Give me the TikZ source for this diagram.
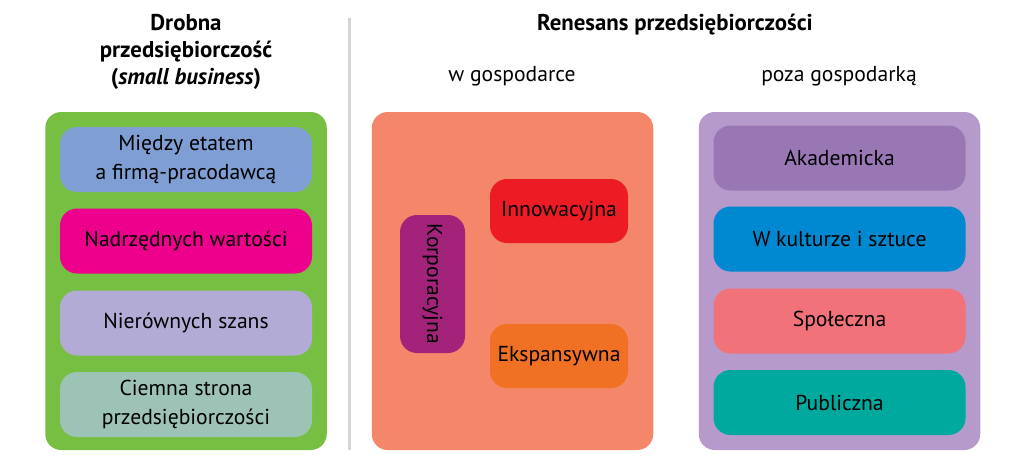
\documentclass[tikz,border=0pt]{standalone}
\usepackage{fontspec}
\setmainfont{PT Sans}
\definecolor{drobnagreen}{HTML}{77BF43}
\definecolor{etatblue}{HTML}{7F9ED3}
\definecolor{wartmagenta}{HTML}{EC008C}
\definecolor{szanslav}{HTML}{B1ABD5}
\definecolor{ciemnagrey}{HTML}{9DC3B7}
\definecolor{gospsalmon}{HTML}{F4876A}
\definecolor{korppurple}{HTML}{A3237A}
\definecolor{innored}{HTML}{ED1C24}
\definecolor{eksporange}{HTML}{F07124}
\definecolor{pozalav}{HTML}{B59ACB}
\definecolor{akadviolet}{HTML}{9977B5}
\definecolor{kultblue}{HTML}{0089D0}
\definecolor{spolpink}{HTML}{F17279}
\definecolor{publteal}{HTML}{00A99D}
\definecolor{divgrey}{HTML}{D6D6D6}
\begin{document}
\begin{tikzpicture}[
    font=\fontsize{12.3}{16}\selectfont,
    panel/.style={rounded corners=0.32cm, minimum width=5.63cm, minimum height=6.76cm, inner sep=0pt},
    item/.style={rounded corners=0.34cm, minimum width=5.04cm, minimum height=1.3cm, inner sep=0pt, align=center},
    subitem/.style={rounded corners=0.34cm, minimum width=2.76cm, minimum height=1.28cm, inner sep=0pt},
    head/.style={font=\fontsize{13}{15.5}\selectfont\bfseries, align=center}
  ]
  \useasboundingbox (0,0) rectangle (20.44,-9.4);
  % headings
  \node[head] (drobna) at (3.72,-1.04) {Drobna\\przedsiębiorczość\\(\textit{small business})};
  \node[head] (renesans) at (13.5,-0.5) {Renesans przedsiębiorczości};
  \node (wgosp) at (10.24,-1.52) {w gospodarce};
  \node (pozagosp) at (16.78,-1.52) {poza gospodarką};
  \draw[divgrey, line width=1.6pt] (6.99,-0.36) -- (6.99,-9.0);
  % small business
  \node[panel, fill=drobnagreen] (small) at (3.72,-5.62) {};
  \node[item, fill=etatblue] (etat) at (3.72,-3.19) {Między etatem\\a firmą-pracodawcą};
  \node[item, fill=wartmagenta] (wartosci) at (3.72,-4.82) {Nadrzędnych wartości};
  \node[item, fill=szanslav] (szanse) at (3.72,-6.46) {Nierównych szans};
  \node[item, fill=ciemnagrey] (ciemna) at (3.72,-8.09) {Ciemna strona\\przedsiębiorczości};
  % w gospodarce
  \node[panel, fill=gospsalmon] (gosp) at (10.25,-5.62) {};
  \node[subitem, fill=korppurple, minimum width=2.76cm, minimum height=1.3cm, rotate=-90] (korp) at (8.65,-5.68) {Korporacyjna};
  \node[subitem, fill=innored] (inno) at (11.18,-4.22) {Innowacyjna};
  \node[subitem, fill=eksporange] (eksp) at (11.18,-7.12) {Ekspansywna};
  % poza gospodarka
  \node[panel, fill=pozalav] (poza) at (16.79,-5.62) {};
  \node[item, fill=akadviolet] (akad) at (16.79,-3.16) {Akademicka};
  \node[item, fill=kultblue] (kult) at (16.79,-4.78) {W kulturze i sztuce};
  \node[item, fill=spolpink] (spol) at (16.79,-6.42) {Społeczna};
  \node[item, fill=publteal] (publ) at (16.79,-8.05) {Publiczna};
\end{tikzpicture}
\end{document}
